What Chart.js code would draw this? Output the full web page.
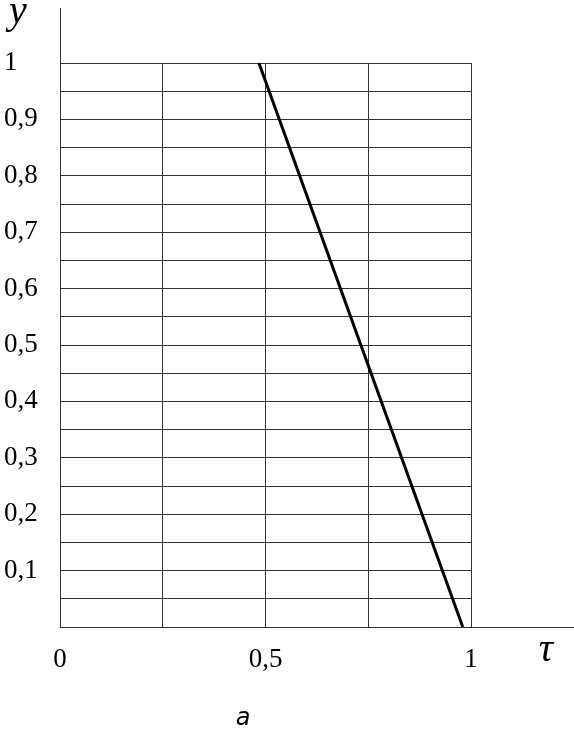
<!DOCTYPE html>
<html>
<head>
<meta charset="utf-8">
<script src="https://cdn.jsdelivr.net/npm/chart.js@4.4.1/dist/chart.umd.min.js"></script>
<style>
  html, body { margin: 0; padding: 0; background: #fff; }
  #graph { display: block; }
</style>
</head>
<body>
<canvas id="graph" width="574" height="735"></canvas>
<script>
/* --------------- Data --------------------- */
const tau = [0.484, 0.98];
const yValues = [1, 0];

/* --------------- Ticks --------------------- */
const xTicks = [0, 0.25, 0.5, 0.75, 1];
const xTickLabels = ['0', '', '0,5', '', '1'];
const yTicks = [0, 0.05, 0.1, 0.15, 0.2, 0.25, 0.3, 0.35, 0.4, 0.45, 0.5,
  0.55, 0.6, 0.65, 0.7, 0.75, 0.8, 0.85, 0.9, 0.95, 1];
const yTickLabels = ['', '', '0,1', '', '0,2', '', '0,3', '', '0,4', '', '0,5',
  '', '0,6', '', '0,7', '', '0,8', '', '0,9', '', '1'];

const gridColor = '#333';
const serif = '"Liberation Serif"';

/* --------------- Axis extensions and letters --------------------- */
const axisExtras = {
  id: 'axisExtras',
  afterDraw(chart) {
    const ctx = chart.ctx;
    const a = chart.chartArea;
    ctx.save();
    ctx.strokeStyle = gridColor;
    ctx.lineWidth = 1;
    ctx.beginPath();
    ctx.moveTo(a.left + 0.5, a.top);
    ctx.lineTo(a.left + 0.5, 8);
    ctx.moveTo(a.right, a.bottom + 0.5);
    ctx.lineTo(chart.width, a.bottom + 0.5);
    ctx.stroke();

    ctx.fillStyle = '#000';
    ctx.textBaseline = 'middle';
    ctx.textAlign = 'center';
    ctx.font = 'italic 40px ' + serif;
    ctx.fillText('y', 18, 12);
    ctx.fillText('τ', 546, 650);
    ctx.font = 'italic 24px "DejaVu Sans"';
    ctx.fillText('a', 243, 719);
    ctx.restore();
  },
};

new Chart(document.getElementById('graph'), {
  type: 'scatter',
  plugins: [axisExtras],
  data: {
    datasets: [
      {
        data: tau.map((t, i) => ({ x: t, y: yValues[i] })),
        showLine: true,
        borderColor: '#000',
        borderWidth: 3,
        pointRadius: 0,
        fill: false,
      },
    ],
  },
  options: {
    responsive: false,
    animation: false,
    layout: { padding: { top: 63, right: 103, left: 4, bottom: 0 } },
    plugins: {
      legend: { display: false },
      tooltip: { enabled: false },
    },
    scales: {
      x: {
        type: 'linear',
        min: 0,
        max: 1,
        afterBuildTicks: (s) => { s.ticks = xTicks.map((v) => ({ value: v })); },
        afterFit: (s) => { s.height = 108; },
        grid: { color: gridColor, lineWidth: 1, drawTicks: false },
        border: { color: gridColor, width: 1 },
        ticks: {
          autoSkip: false,
          maxRotation: 0,
          padding: 17,
          color: '#000',
          font: { family: serif, size: 27 },
          callback: (v, i) => xTickLabels[i],
        },
      },
      y: {
        type: 'linear',
        min: 0,
        max: 1,
        afterBuildTicks: (s) => { s.ticks = yTicks.map((v) => ({ value: v })); },
        afterFit: (s) => { s.width = 56; },
        grid: { color: gridColor, lineWidth: 1, drawTicks: false },
        border: { color: gridColor, width: 1 },
        ticks: {
          autoSkip: false,
          crossAlign: 'far',
          color: '#000',
          font: { family: serif, size: 27 },
          callback: (v, i) => yTickLabels[i],
        },
      },
    },
  },
});
</script>
</body>
</html>
